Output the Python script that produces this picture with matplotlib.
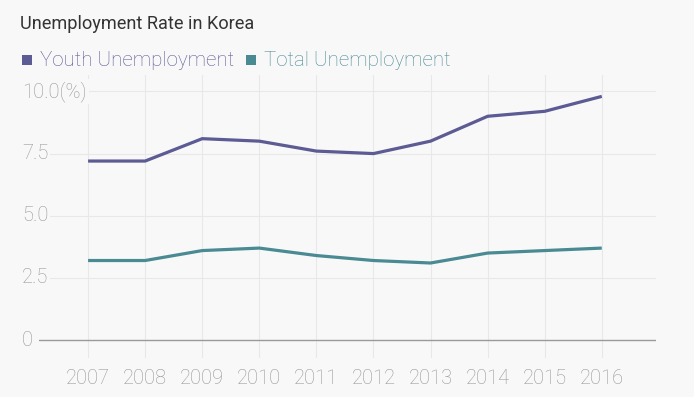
import matplotlib
matplotlib.use("Agg")
import matplotlib.pyplot as plt

years = [2007, 2008, 2009, 2010, 2011, 2012, 2013, 2014, 2015, 2016]
youth = [7.2, 7.2, 8.1, 8.0, 7.6, 7.5, 8.0, 9.0, 9.2, 9.8]
total = [3.2, 3.2, 3.6, 3.7, 3.4, 3.2, 3.1, 3.5, 3.6, 3.7]
series_names = ["Youth Unemployment", "Total Unemployment"]
yticks = [0, 2.5, 5.0, 7.5, 10.0]
ytick_labels = ["0", "2.5", "5.0", "7.5", "10.0(%)"]
title = "Unemployment Rate in Korea"

bg = "#f8f8f9"
c_youth = "#5c5b93"
c_total = "#4a8a93"
tick_c = "#979797"
W, H = 694, 397

plt.rcParams['font.family'] = ['Roboto', 'DejaVu Sans']
LW = "light"
fig = plt.figure(figsize=(W / 100, H / 100), dpi=100, facecolor=bg)
ax = fig.add_axes([39 / W, 1 - 358 / H, (656 - 39) / W, (358 - 75) / H])
ax.set_facecolor(bg)
ax.set_xlim(2006.14, 2016.95)
ax.set_ylim(-0.72, 10.66)
for s in ax.spines.values():
    s.set_visible(False)
ax.set_xticks([])
ax.set_yticks([])

for x in years:
    ax.axvline(x, color="#e8e8e9", lw=0.8, zorder=1)
for y in yticks:
    if y == 0:
        ax.axhline(y, color="#9a9a9a", lw=1.0, zorder=2)
    else:
        ax.axhline(y, color="#e8e8e9", lw=0.8, zorder=1)

ax.plot(years, youth, color=c_youth, lw=2.3, zorder=4, solid_capstyle="butt")
ax.plot(years, total, color=c_total, lw=2.3, zorder=4, solid_capstyle="butt")

ytr = matplotlib.transforms.blended_transform_factory(fig.transFigure, ax.transData)
for y, lab in zip(yticks, ytick_labels):
    ax.text(22 / W, y, lab, transform=ytr, color=tick_c,
            fontsize=14.5, fontweight=LW, va="center", ha="left",
            bbox=dict(facecolor=bg, edgecolor="none", pad=1.5), zorder=3)

xtr = matplotlib.transforms.blended_transform_factory(ax.transData, fig.transFigure)
for x in years:
    ax.text(x, 1 - 378 / H, str(x), transform=xtr,
            color=tick_c, fontsize=14.5, fontweight=LW, ha="center", va="center")

fig.text(20 / W, 1 - 24 / H, title, color="#333333", fontsize=13.1, ha="left", va="center")

fig.patches.append(matplotlib.patches.Rectangle((22 / W, 1 - 65 / H), 10 / W, 10 / H,
                   transform=fig.transFigure, facecolor=c_youth, edgecolor="none"))
fig.text(40 / W, 1 - 60 / H, series_names[0], color=c_youth, fontsize=14.8, fontweight=LW,
         ha="left", va="center")
fig.patches.append(matplotlib.patches.Rectangle((246 / W, 1 - 65 / H), 10 / W, 10 / H,
                   transform=fig.transFigure, facecolor=c_total, edgecolor="none"))
fig.text(264 / W, 1 - 60 / H, series_names[1], color=c_total, fontsize=14.8, fontweight=LW,
         ha="left", va="center")

fig.savefig("out.png", dpi=100, facecolor=bg)
